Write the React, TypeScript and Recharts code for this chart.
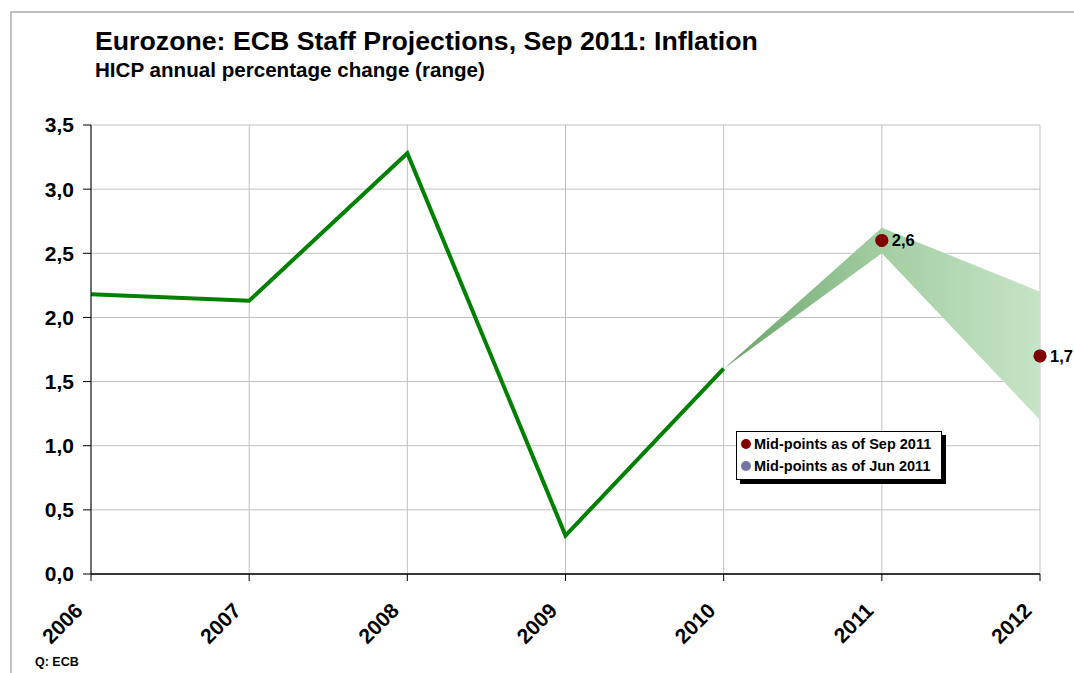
import {
  ComposedChart,
  Line,
  Area,
  XAxis,
  YAxis,
  CartesianGrid,
  Legend,
  LabelList,
} from 'recharts'

const YEARS = ['2006', '2007', '2008', '2009', '2010', '2011', '2012']
const ACTUAL = [2.18, 2.13, 3.28, 0.3, 1.6, null, null]
const RANGE_LOW = [null, null, null, null, 1.6, 2.5, 1.2]
const RANGE_HIGH = [null, null, null, null, 1.6, 2.7, 2.2]
const MID_SEP = [null, null, null, null, null, 2.6, 1.7]
const MID_JUN = [null, null, null, null, null, 2.6, 1.7]
const Y_TICKS = [0, 0.5, 1, 1.5, 2, 2.5, 3, 3.5]

const SERIES = [
  { key: 'sep', name: 'Mid-points as of Sep 2011', color: '#800000' },
  { key: 'jun', name: 'Mid-points as of Jun 2011', color: '#7373a6' },
]

const FONT = '"Liberation Sans", Arial, sans-serif'

const data = YEARS.map((year, i) => ({
  year,
  actual: ACTUAL[i],
  band: RANGE_LOW[i] == null ? null : [RANGE_LOW[i], RANGE_HIGH[i]],
  sep: MID_SEP[i],
  jun: MID_JUN[i],
}))

const fmt = (v: number) => v.toFixed(1).replace('.', ',')

function XTick({ x, y, payload }: any) {
  const ax = x - 7
  const ay = y + 29
  return (
    <text
      x={ax}
      y={ay}
      transform={`rotate(-45 ${ax} ${ay})`}
      textAnchor="end"
      fontFamily={FONT}
      fontWeight="bold"
      fontSize={21}
      fill="#000"
    >
      {payload.value}
    </text>
  )
}

function MidLabel({ x, y, value }: any) {
  if (value == null) return null
  return (
    <text x={x + 10} y={y + 6} fontFamily={FONT} fontWeight="bold" fontSize={16.5} fill="#000">
      {fmt(value)}
    </text>
  )
}

function LegendBox() {
  return (
    <div
      style={{
        border: '1px solid #000',
        background: '#fff',
        boxShadow: '4px 4px 0 #000',
        padding: '1px 4px 2px 4px',
        fontFamily: FONT,
        fontWeight: 'bold',
        fontSize: 14.5,
        lineHeight: '22px',
        width: 196,
        whiteSpace: 'nowrap',
      }}
    >
      {SERIES.map((s) => (
        <div key={s.key} style={{ display: 'flex', alignItems: 'center' }}>
          <span
            style={{
              width: 10,
              height: 10,
              borderRadius: 5,
              background: s.color,
              display: 'inline-block',
              marginRight: 3,
            }}
          />
          {s.name}
        </div>
      ))}
    </div>
  )
}

export default function App() {
  return (
    <div
      style={{
        position: 'absolute',
        left: 0,
        top: 0,
        width: 1074,
        height: 673,
        overflow: 'hidden',
        background: '#fff',
        fontFamily: FONT,
      }}
    >
      <div
        style={{
          position: 'absolute',
          left: 10,
          top: 11,
          width: 1100,
          height: 700,
          borderTop: '2px solid #c0c0c0',
          borderLeft: '2px solid #c0c0c0',
        }}
      />
      <div style={{ position: 'absolute', left: 95, top: 26, fontWeight: 'bold', fontSize: 26.7, whiteSpace: 'nowrap' }}>
        Eurozone: ECB Staff Projections, Sep 2011: Inflation
      </div>
      <div style={{ position: 'absolute', left: 95, top: 58, fontWeight: 'bold', fontSize: 20.6, whiteSpace: 'nowrap' }}>
        HICP annual percentage change (range)
      </div>
      <div style={{ position: 'absolute', left: 35, top: 655, fontWeight: 'bold', fontSize: 12.5 }}>
        Q: ECB
      </div>
      <div style={{ position: 'absolute', left: 0, top: 0 }}>
        <ComposedChart
          width={1074}
          height={673}
          data={data}
          margin={{ top: 125, right: 34, bottom: 0, left: 0 }}
        >
          <defs>
            <linearGradient id="bandFill" x1="0" y1="0" x2="1" y2="0">
              <stop offset="0%" stopColor="#6aa36a" />
              <stop offset="50%" stopColor="#a3cea3" />
              <stop offset="100%" stopColor="#c6e4c6" />
            </linearGradient>
          </defs>
          <CartesianGrid stroke="#c0c0c0" strokeWidth={1} />
          <XAxis
            dataKey="year"
            scale="point"
            height={99}
            interval={0}
            axisLine={{ stroke: '#000', strokeWidth: 1.5 }}
            tickLine={{ stroke: '#000' }}
            tickSize={7}
            tick={<XTick />}
          />
          <YAxis
            domain={[0, 3.5]}
            ticks={Y_TICKS}
            width={91}
            tickFormatter={fmt}
            axisLine={{ stroke: '#000' }}
            tickLine={{ stroke: '#000' }}
            tickSize={8}
            tickMargin={9}
            tick={{ fontFamily: FONT, fontWeight: 'bold', fontSize: 21, fill: '#000' }}
          />
          <Area
            dataKey="band"
            stroke="none"
            fill="url(#bandFill)"
            fillOpacity={1}
            isAnimationActive={false}
            legendType="none"
          />
          <Line
            dataKey="actual"
            stroke="#008000"
            strokeWidth={4}
            dot={false}
            isAnimationActive={false}
            legendType="none"
          />
          <Line
            dataKey="jun"
            name={SERIES[1].name}
            stroke="none"
            dot={{ r: 6.5, fill: SERIES[1].color, stroke: 'none' }}
            isAnimationActive={false}
          />
          <Line
            dataKey="sep"
            name={SERIES[0].name}
            stroke="none"
            dot={{ r: 6.5, fill: SERIES[0].color, stroke: 'none' }}
            isAnimationActive={false}
          >
            <LabelList dataKey="sep" content={<MidLabel />} />
          </Line>
          <Legend
            layout="vertical"
            align="center"
            verticalAlign="middle"
            content={<LegendBox />}
            wrapperStyle={{ left: 736, top: 431, width: 212, height: 50 }}
          />
        </ComposedChart>
      </div>
    </div>
  )
}
